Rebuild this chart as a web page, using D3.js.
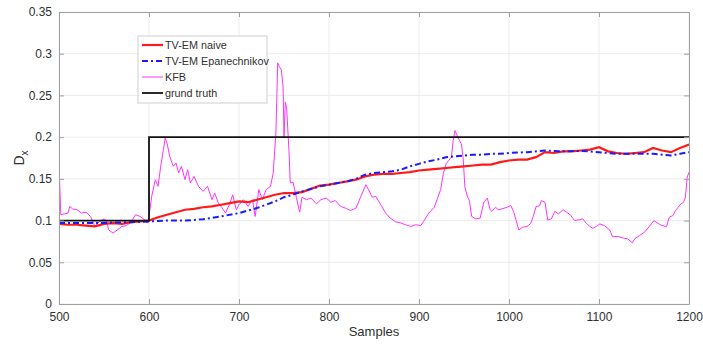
<!DOCTYPE html>
<html><head><meta charset="utf-8">
<script src="https://cdn.jsdelivr.net/npm/d3@7"></script>
<style>
body{margin:0;background:#fff;}
text{font-family:"Liberation Sans",Arial,Helvetica,sans-serif;}
</style>
</head><body>
<svg id="c" width="703" height="345"></svg>
<script>
const xTicks = [500,600,700,800,900,1000,1100,1200];
const yTicks = [0,0.05,0.1,0.15,0.2,0.25,0.3,0.35];
const yTickLabels = ["0","0.05","0.1","0.15","0.2","0.25","0.3","0.35"];
const seriesNames = ["TV-EM naive","TV-EM Epanechnikov","KFB","grund truth"];

const truthX = [500,600,600,1200];
const truthY = [0.1,0.1,0.2,0.2];

const naiveX = [500,510,520,530,540,550,560,570,580,590,600,610,620,630,640,650,660,670,680,690,700,710,720,730,740,750,760,770,780,790,800,810,820,830,840,850,860,870,880,890,900,910,920,930,940,950,960,970,980,990,1000,1010,1020,1030,1040,1050,1060,1070,1080,1090,1100,1110,1120,1130,1140,1150,1160,1170,1180,1190,1200];
const naiveY = [0.096,0.095,0.095,0.094,0.093,0.096,0.097,0.096,0.098,0.099,0.100,0.104,0.107,0.110,0.113,0.114,0.116,0.117,0.119,0.121,0.123,0.122,0.125,0.128,0.131,0.133,0.133,0.134,0.138,0.142,0.143,0.145,0.147,0.149,0.153,0.155,0.156,0.156,0.157,0.158,0.160,0.161,0.162,0.163,0.164,0.165,0.166,0.167,0.167,0.170,0.172,0.173,0.173,0.176,0.182,0.181,0.183,0.183,0.184,0.185,0.188,0.183,0.181,0.180,0.181,0.182,0.187,0.184,0.182,0.187,0.191];

const epaX = [500,520,540,560,580,600,620,640,660,680,700,720,740,750,760,770,780,790,800,810,820,830,840,850,860,870,880,890,900,910,920,930,940,950,960,970,980,990,1000,1020,1040,1060,1080,1100,1120,1140,1160,1180,1190,1200];
const epaY = [0.097,0.097,0.097,0.0976,0.098,0.099,0.100,0.100,0.1016,0.105,0.109,0.115,0.123,0.128,0.131,0.135,0.138,0.141,0.143,0.145,0.147,0.150,0.155,0.157,0.158,0.159,0.161,0.165,0.168,0.171,0.173,0.176,0.177,0.178,0.179,0.179,0.180,0.180,0.181,0.182,0.184,0.183,0.1835,0.182,0.180,0.180,0.180,0.178,0.180,0.182];

const kfbX = [500,502,506,510,512,515,520,525,530,535,540,545,550,553,555,560,565,570,575,580,585,590,595,598,600,603,607,610,613,616,618,620,623,627,630,633,636,640,643,646,650,655,660,665,670,673,677,680,685,690,693,697,700,705,710,715,718,722,726,730,735,738,741,743,745,747,749,750,751.5,753,755.5,757,760,763.7,767.4,770,775,780,786,791,797,802,807,813,818,824,830,835,841,844,848,852,857,863,868,874,880,885,891,896,902,905,911,917,920,924,927,930,933,936,938,940,943,945,947,949,951,954,956,958.5,963,968,972,976,979,981,985,988,992,998,1002,1005,1008,1011,1015,1020,1024,1027,1030,1034,1036,1040,1043,1047,1051,1055,1060,1064,1068,1073,1078,1082,1086,1090,1093,1097,1101,1106,1112,1115,1121,1127,1132,1137,1140,1145,1151,1156,1161,1165,1169,1175,1178,1182,1185,1188,1191,1194,1196,1198,1200];
const kfbY = [0.169,0.107,0.108,0.109,0.117,0.114,0.113,0.109,0.110,0.105,0.093,0.099,0.102,0.100,0.089,0.085,0.089,0.093,0.094,0.098,0.107,0.105,0.101,0.097,0.105,0.129,0.149,0.141,0.165,0.185,0.199,0.193,0.177,0.165,0.169,0.157,0.165,0.149,0.161,0.145,0.153,0.141,0.135,0.141,0.125,0.133,0.121,0.117,0.109,0.121,0.131,0.113,0.119,0.125,0.117,0.125,0.105,0.137,0.125,0.137,0.141,0.157,0.205,0.289,0.284,0.281,0.260,0.200,0.242,0.234,0.184,0.145,0.146,0.128,0.110,0.128,0.125,0.127,0.120,0.125,0.127,0.122,0.124,0.117,0.115,0.112,0.115,0.128,0.143,0.137,0.128,0.129,0.120,0.109,0.103,0.0986,0.097,0.095,0.093,0.095,0.094,0.099,0.109,0.116,0.125,0.137,0.156,0.168,0.172,0.176,0.196,0.208,0.200,0.196,0.192,0.176,0.140,0.128,0.124,0.105,0.102,0.103,0.122,0.127,0.113,0.111,0.116,0.113,0.114,0.116,0.118,0.111,0.100,0.0886,0.092,0.093,0.0964,0.105,0.1166,0.118,0.124,0.122,0.1006,0.102,0.111,0.108,0.113,0.110,0.107,0.100,0.101,0.102,0.0966,0.093,0.0907,0.093,0.096,0.094,0.0886,0.0806,0.081,0.079,0.078,0.0734,0.0786,0.082,0.0866,0.093,0.100,0.097,0.0945,0.0926,0.104,0.106,0.112,0.116,0.120,0.122,0.128,0.152,0.158];

const W = 703, H = 345;
const m = {l:59, r:14, t:12, b:41};
const svg = d3.select("#c");
const x = d3.scaleLinear().domain([500,1200]).range([m.l, W-m.r]);
const y = d3.scaleLinear().domain([0,0.35]).range([H-m.b, m.t]);
const axisCol = "#a0a0a0", textCol = "#303030";

// grid
const g = svg.append("g");
g.selectAll("line.gx").data(xTicks).enter().append("line")
  .attr("x1",d=>x(d)).attr("x2",d=>x(d)).attr("y1",y(0)).attr("y2",y(0.35))
  .attr("stroke","#ececec").attr("stroke-width",1);
g.selectAll("line.gy").data(yTicks).enter().append("line")
  .attr("y1",d=>y(d)).attr("y2",d=>y(d)).attr("x1",x(500)).attr("x2",x(1200))
  .attr("stroke","#ececec").attr("stroke-width",1);

// lines
const zip = (xs,ys)=>xs.map((v,i)=>[v,ys[i]]);
const line = d3.line().x(d=>x(d[0])).y(d=>y(d[1]));
svg.append("clipPath").attr("id","pc").append("rect")
  .attr("x",m.l).attr("y",m.t).attr("width",W-m.l-m.r).attr("height",H-m.t-m.b);
const pg = svg.append("g").attr("clip-path","url(#pc)");
pg.append("path").datum(zip(kfbX,kfbY)).attr("d",line).attr("fill","none").attr("stroke","#ff33ff").attr("stroke-width",1);
pg.append("path").datum(zip(naiveX,naiveY)).attr("d",line).attr("fill","none").attr("stroke","#ff1a1a").attr("stroke-width",2.2);
pg.append("path").datum(zip(epaX,epaY)).attr("d",line).attr("fill","none").attr("stroke","#1a1aff").attr("stroke-width",2).attr("stroke-dasharray","6,3,2,3");
pg.append("path").datum(zip(truthX,truthY)).attr("d",line).attr("fill","none").attr("stroke","#111").attr("stroke-width",1.8);

// axes
const ax = svg.append("g").attr("transform",`translate(0,${y(0)})`)
  .call(d3.axisBottom(x).tickValues(xTicks).tickSizeInner(-5).tickSizeOuter(0).tickPadding(8).tickFormat(d3.format("d")));
const ayL = svg.append("g").attr("transform",`translate(${x(500)},0)`)
  .call(d3.axisLeft(y).tickValues(yTicks).tickSizeInner(-5).tickSizeOuter(0).tickPadding(7).tickFormat((d,i)=>yTickLabels[i]));
const axT = svg.append("g").attr("transform",`translate(0,${y(0.35)})`)
  .call(d3.axisTop(x).tickValues(xTicks).tickSizeInner(-5).tickSizeOuter(0).tickFormat(""));
const ayR = svg.append("g").attr("transform",`translate(${x(1200)},0)`)
  .call(d3.axisRight(y).tickValues(yTicks).tickSizeInner(-5).tickSizeOuter(0).tickFormat(""));
[ax,ayL,axT,ayR].forEach(a=>{
  a.select(".domain").attr("stroke",axisCol);
  a.selectAll(".tick line").attr("stroke",axisCol);
  a.selectAll("text").attr("fill",textCol).attr("font-size",12).attr("font-family","Liberation Sans, Arial, sans-serif");
});

// labels
svg.append("text").attr("x",(x(500)+x(1200))/2).attr("y",336).attr("text-anchor","middle")
  .attr("fill",textCol).attr("font-size",13).text("Samples");
const yl = svg.append("text").attr("transform",`translate(24,${(y(0)+y(0.35))/2}) rotate(-90)`)
  .attr("text-anchor","middle").attr("fill",textCol).attr("font-size",14);
yl.append("tspan").text("D");
yl.append("tspan").attr("font-size",10).attr("dy",4).text("x");

// legend
const lg = svg.append("g").attr("transform","translate(138,36)");
lg.append("rect").attr("width",129).attr("height",67).attr("fill","#fff").attr("stroke","#cfcfcf").attr("stroke-width",1);
const legStyles = [
  {c:"#ff1a1a",w:2.2,d:null},
  {c:"#1a1aff",w:2,d:"6,3,2,3"},
  {c:"#ff33ff",w:1,d:null},
  {c:"#111",w:1.8,d:null}];
seriesNames.forEach((n,i)=>{
  const yy = 9 + i*16;
  lg.append("line").attr("x1",4).attr("x2",25).attr("y1",yy).attr("y2",yy)
    .attr("stroke",legStyles[i].c).attr("stroke-width",legStyles[i].w)
    .attr("stroke-dasharray",legStyles[i].d);
  lg.append("text").attr("x",27).attr("y",yy+4).attr("font-size",10.8).attr("fill",textCol).text(n);
});
</script>
</body></html>
